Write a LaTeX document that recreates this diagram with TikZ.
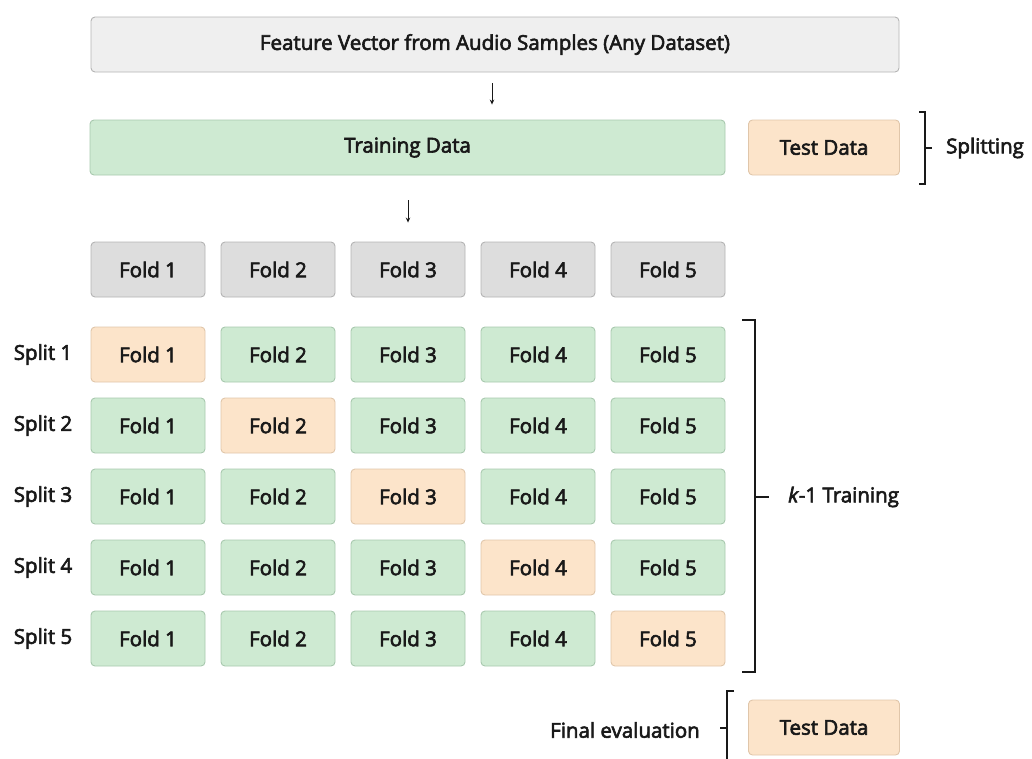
\documentclass[tikz,border=0pt]{standalone}
\usepackage{fontspec}
\setmainfont{Open Sans}[FakeBold=3]
\usetikzlibrary{arrows.meta}

\definecolor{greyfill}{RGB}{221,221,221}
\definecolor{greyline}{RGB}{180,180,180}
\definecolor{lightfill}{RGB}{239,239,239}
\definecolor{greenfill}{RGB}{206,234,210}
\definecolor{greenline}{RGB}{168,200,174}
\definecolor{orangefill}{RGB}{252,228,202}
\definecolor{orangeline}{RGB}{224,198,170}
\definecolor{ink}{RGB}{25,25,25}

\tikzset{
  txt/.style={font=\fontsize{20.5}{22}\selectfont, text=ink},
  box/.style={draw, rounded corners=4pt, line width=0.9pt, inner sep=0pt,
              minimum height=55pt, txt},
  inputbox/.style={box, fill=lightfill, draw=greyline},
  foldbox/.style={box, fill=greyfill, draw=greyline, minimum width=114pt},
  trainbox/.style={box, fill=greenfill, draw=greenline},
  testbox/.style={box, fill=orangefill, draw=orangeline},
  trainfold/.style={trainbox, minimum width=114pt},
  testfold/.style={testbox, minimum width=114pt},
  lbl/.style={inner sep=0pt, txt},
  arr/.style={-{Stealth[length=5pt,width=4.5pt]}, line width=1pt, draw=ink},
  brace/.style={line width=1.2pt, draw=ink},
}

\begin{document}
\begin{tikzpicture}[x=1pt,y=-1pt]
\useasboundingbox (0,0) rectangle (1032,758);

% input and first split
\node[inputbox, minimum width=808pt] (feat) at (495,44.5)
  {Feature Vector from Audio Samples (Any Dataset)};
\node[trainbox, minimum width=635pt] (train) at (407.5,147.5) {Training Data};
\node[testbox, minimum width=151pt] (test) at (824,147.5) {Test Data};

% the five folds
\foreach \i/\x in {1/148,2/278,3/408,4/538,5/668}
  \node[foldbox] (f\i) at (\x,269.5) {Fold \i};

% arrows
\coordinate (a1) at (492,0);
\draw[arr, shorten <=11pt, shorten >=15pt] (feat.south -| a1) -- (train.north -| a1);
\draw[arr, shorten <=25pt, shorten >=19pt] (train.south -| f3) -- (f3.north);

% cross-validation splits
\foreach \r/\y in {1/354.5,2/425.5,3/496.5,4/567.5,5/638.5}{
  \node[lbl] (s\r) at (43,\y) {Split \r};
  \foreach \c/\x in {1/148,2/278,3/408,4/538,5/668}{
    \ifnum\c=\r
      \node[testfold] (s\r f\c) at (\x,\y) {Fold \c};
    \else
      \node[trainfold] (s\r f\c) at (\x,\y) {Fold \c};
    \fi
  }
}

% splitting bracket
\coordinate (b1t) at (919,112);
\coordinate (b1b) at (919,184);
\coordinate (b1m) at (925,148);
\draw[brace] (b1t) -- (925,112) -- (925,184) -- (b1b);
\draw[brace] (b1m) -- (932,148);
\node[lbl, anchor=west] (splitting) at (946,148) {Splitting};

% k-1 training bracket
\coordinate (b2t) at (742,320);
\coordinate (b2b) at (742,672);
\draw[brace] (b2t) -- (755,320) -- (755,672) -- (b2b);
\coordinate (b2m) at (755,497);
\draw[brace] (b2m) -- (769,497);
\node[lbl, anchor=west] (ktrain) at (788,497) {\textit{k}-1 Training};

% final evaluation
\draw[brace] (734,691) -- (727,691) -- (727,760);
\coordinate (b3m) at (727,728);
\draw[brace] (b3m) -- (720,728);
\node[lbl, anchor=east] (final) at (700,730) {Final evaluation};
\node[testbox, minimum width=151pt] (test2) at (824,727.5) {Test Data};
\end{tikzpicture}
\end{document}
